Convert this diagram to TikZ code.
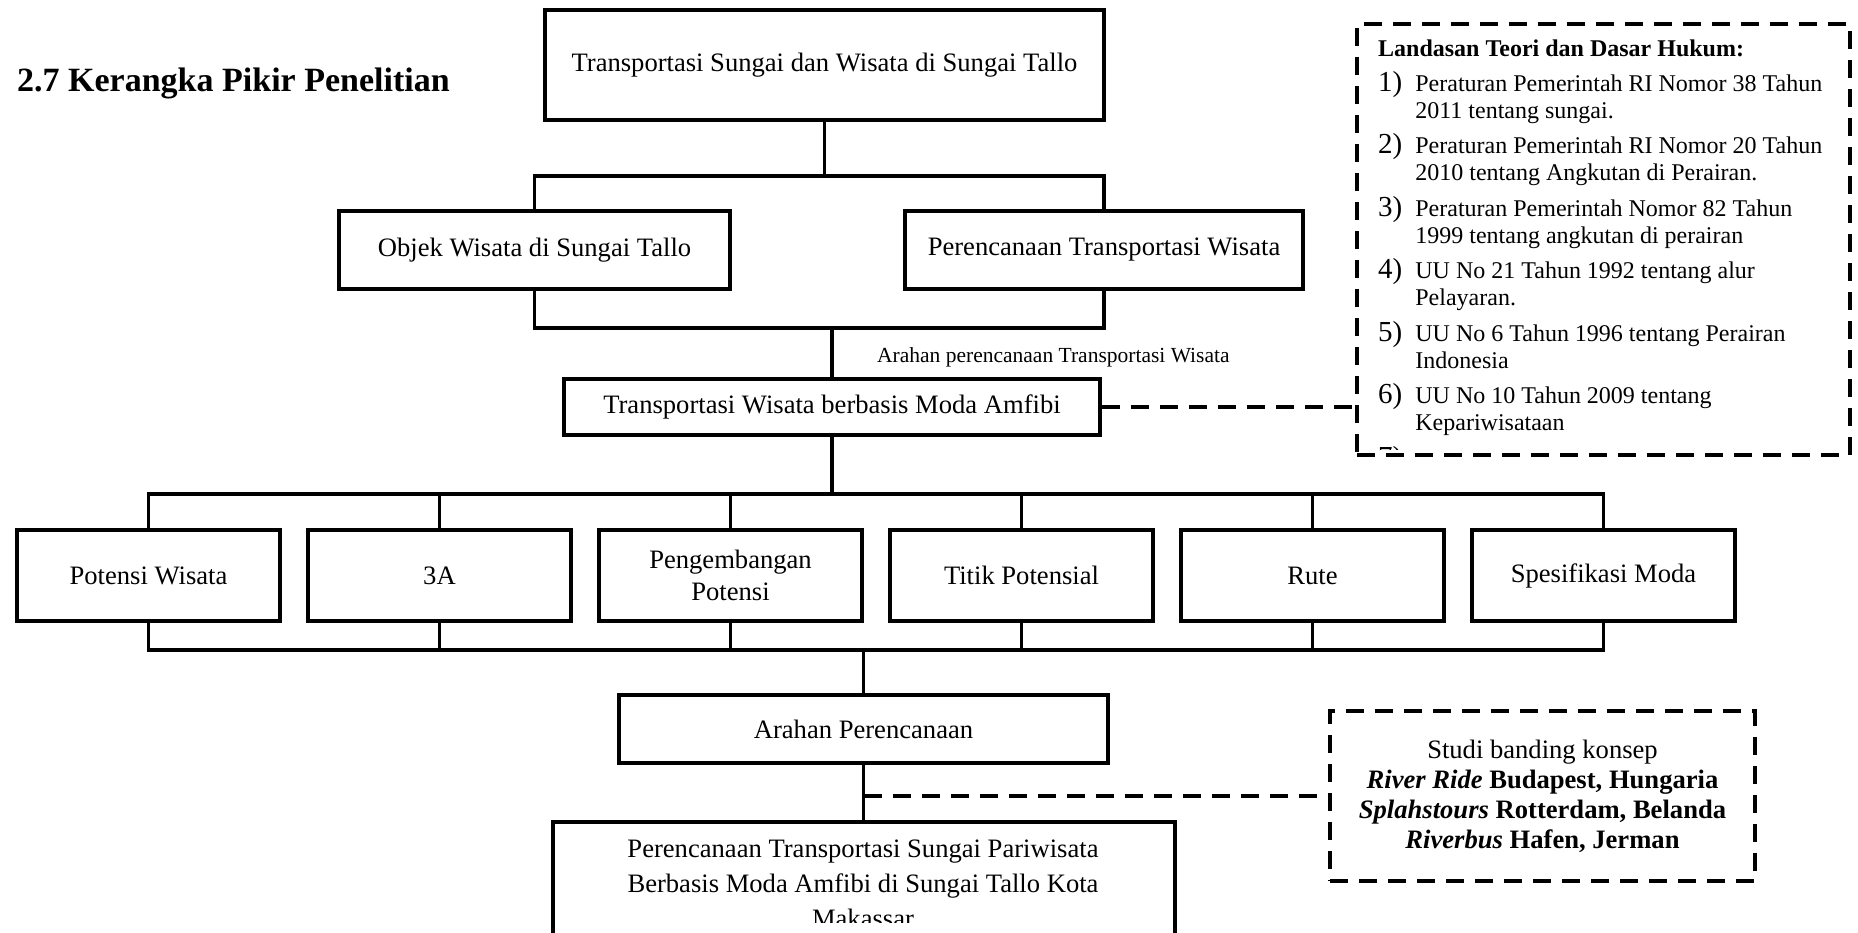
\documentclass[tikz,border=0pt]{standalone}
\usepackage{fontspec}
\setmainfont{Liberation Serif}
\usetikzlibrary{positioning, calc}

\newcommand{\mainsz}{\fontsize{26.6}{32}\selectfont}
\newcommand{\lawsz}{\fontsize{24}{27}\selectfont}
\newcommand{\numsz}{\fontsize{29}{27}\selectfont}
\newcommand{\notesz}{\fontsize{21.5}{25}\selectfont}
\newcommand{\titlesz}{\fontsize{34}{40}\selectfont}

\begin{document}
\begin{tikzpicture}[x=1pt, y=1pt,
    box/.style={draw, line width=4pt, align=center, font=\mainsz, inner sep=0pt},
    part/.style={box, minimum width=263pt, minimum height=91pt},
    legal/.style={draw, line width=4pt, dash pattern=on 18pt off 11pt},
    link/.style={line width=3.2pt},
    dashlink/.style={line width=4pt, dash pattern=on 18pt off 11pt}]

\useasboundingbox (0,0) rectangle (1858,932);
\clip (0,0) rectangle (1858,932);

% Title
\node[font=\titlesz\bfseries, anchor=base west, inner sep=0pt] (title) at (17,840) {2.7 Kerangka Pikir Penelitian};

% Upper part
\node[box, minimum width=559pt, minimum height=110pt] (topic) at (824.5,867) {Transportasi Sungai dan Wisata di Sungai Tallo};
\node[box, minimum width=391pt, minimum height=78pt] (objek) at (534.5,682) {Objek Wisata di Sungai Tallo};
\node[box, minimum width=398pt, minimum height=78pt] (rencana) at (1104,682) {Perencanaan Transportasi Wisata};
\node[box, minimum width=536pt, minimum height=56pt] (moda) at (832,525) {Transportasi Wisata berbasis Moda Amfibi};
\node[font=\notesz, anchor=base west, inner sep=0pt] (arahlabel) at (877,569) {Arahan perencanaan Transportasi Wisata};

% Legal basis (dashed)
\node[legal, minimum width=493pt, minimum height=431pt] (dasar) at (1603.5,692.5) {};
\begin{scope}
\clip ($(dasar.south west)+(0,7)$) rectangle (dasar.north east);
\node[font=\lawsz, anchor=base west, inner sep=0pt] (dasarlist) at (1378,875) {%
\begin{tabular}[t]{@{}l@{\hspace{13pt}}l@{}}
\multicolumn{2}{@{}l@{}}{\textbf{Landasan Teori dan Dasar Hukum:}}\\[5.8pt]
{\numsz 1)} & Peraturan Pemerintah RI Nomor 38 Tahun\\
 & 2011 tentang sungai.\\[7.3pt]
{\numsz 2)} & Peraturan Pemerintah RI Nomor 20 Tahun\\
 & 2010 tentang Angkutan di Perairan.\\[7.3pt]
{\numsz 3)} & Peraturan Pemerintah Nomor 82 Tahun\\
 & 1999 tentang angkutan di perairan\\[7.3pt]
{\numsz 4)} & UU No 21 Tahun 1992 tentang alur\\
 & Pelayaran.\\[7.3pt]
{\numsz 5)} & UU No 6 Tahun 1996 tentang Perairan\\
 & Indonesia\\[7.3pt]
{\numsz 6)} & UU No 10 Tahun 2009 tentang\\
 & Kepariwisataan\\[7.3pt]
{\numsz 7)} & \\
\end{tabular}};
\end{scope}

% Six aspects
\node[part] (potensi) at (148.5,356.5) {Potensi Wisata};
\node[part, right=24pt of potensi] (tigaa) {3A};
\node[part, right=24pt of tigaa] (kembang) {Pengembangan\\Potensi};
\node[part, right=24pt of kembang] (titik) {Titik Potensial};
\node[part, right=24pt of titik] (rute) {Rute};
\node[part, right=24pt of rute] (spek) {Spesifikasi Moda};

% Lower part
\node[box, minimum width=489pt, minimum height=68pt] (arahan) at (863.5,203) {Arahan Perencanaan};
\node[box, minimum width=622pt, minimum height=150pt, below=55pt of arahan] (hasil) {};
\begin{scope}
\clip ($(hasil.north west)+(0,-4)$) rectangle (hasil.east |- 0,10);
\node[font=\fontsize{26.6}{35}\selectfont, align=center, inner sep=0pt] (hasiltext) at (863,48) {Perencanaan Transportasi Sungai Pariwisata\\Berbasis Moda Amfibi di Sungai Tallo Kota\\Makassar};
\end{scope}
\node[box, legal, minimum width=425pt, minimum height=170pt, font=\fontsize{26.6}{30}\selectfont] (banding) at (1542.5,136) {Studi banding konsep\\\textbf{\textit{River Ride} Budapest, Hungaria}\\\textbf{\textit{Splahstours} Rotterdam, Belanda}\\\textbf{\textit{Riverbus} Hafen, Jerman}};

% Tree lines
\coordinate (split1) at ($(topic.south)+(0,-54)$);
\draw[link] (topic.south) -- (split1);
\draw[link] (objek.north) |- (split1) -| (rencana.north);

\coordinate (join1) at ($(moda.north)+(0,49)$);
\draw[link] (objek.south) |- (join1) -| (rencana.south);
\draw[link] (join1) -- (moda.north);

\coordinate (split2) at ($(moda.south)+(0,-57)$);
\draw[link] (moda.south) -- (split2);
\draw[link] (potensi.north) |- (split2) -| (spek.north);
\draw[link] (tigaa.north) -- (tigaa.north |- split2);
\draw[link] (kembang.north) -- (kembang.north |- split2);
\draw[link] (titik.north) -- (titik.north |- split2);
\draw[link] (rute.north) -- (rute.north |- split2);

\coordinate (join2) at ($(arahan.north)+(0,43)$);
\draw[link] (potensi.south) |- (join2) -| (spek.south);
\draw[link] (tigaa.south) -- (tigaa.south |- join2);
\draw[link] (kembang.south) -- (kembang.south |- join2);
\draw[link] (titik.south) -- (titik.south |- join2);
\draw[link] (rute.south) -- (rute.south |- join2);
\draw[link] (join2) -- (arahan.north);
\draw[link] (arahan.south) -- (hasil.north);

% Dashed references
\draw[dashlink] (moda.east) -- (moda.east -| dasar.west);
\draw[dashlink] (arahan.south |- banding.west) -- (banding.west);
\end{tikzpicture}
\end{document}
